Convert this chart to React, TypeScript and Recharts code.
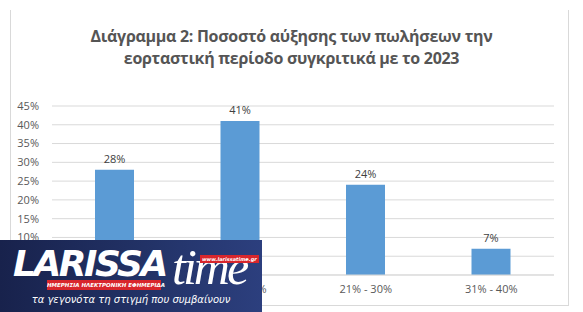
import React from 'react';
import { BarChart, Bar, XAxis, YAxis, CartesianGrid, LabelList } from 'recharts';

const ranges = ['0% - 10%', '11% - 20%', '21% - 30%', '31% - 40%'];
const shares = [28, 41, 24, 7];
const yTicks = [0, 5, 10, 15, 20, 25, 30, 35, 40, 45];
const titleLines = [
  'Διάγραμμα 2: Ποσοστό αύξησης των πωλήσεων την',
  'εορταστική περίοδο συγκριτικά με το 2023',
];

const data = ranges.map((range, i) => ({ range, share: shares[i] }));

const pct = (v: number) => `${v}%`;

const Logo = () => (
  <div
    style={{
      position: 'absolute',
      left: 0,
      top: 240,
      width: 262,
      height: 72,
      background: 'linear-gradient(90deg, #18224c 0%, #223266 55%, #2c3f7e 100%)',
      overflow: 'hidden',
      fontFamily: '"DejaVu Sans", sans-serif',
      color: '#fff',
      whiteSpace: 'nowrap',
    }}
  >
    <div
      style={{
        position: 'absolute',
        left: 13,
        top: 5,
        fontSize: 36,
        fontWeight: 'bold',
        fontStyle: 'italic',
        letterSpacing: -2.5,
        lineHeight: '38px',
      }}
    >
      LARISSA
    </div>
    <div
      style={{
        position: 'absolute',
        left: 172,
        top: 2,
        fontSize: 50,
        fontStyle: 'italic',
        fontFamily: '"Liberation Serif", serif',
        lineHeight: '50px',
        letterSpacing: -3,
      }}
    >
      time
    </div>
    <div
      style={{
        position: 'absolute',
        left: 200,
        top: 15,
        background: '#d8262c',
        fontSize: 5,
        fontWeight: 'bold',
        fontStyle: 'italic',
        padding: '0 2px',
        lineHeight: '8px',
      }}
    >
      www.larissatime.gr
    </div>
    <div
      style={{
        position: 'absolute',
        left: 47,
        top: 40,
        width: 114,
        background: '#d8262c',
        fontSize: 5.5,
        fontWeight: 'bold',
        fontStyle: 'italic',
        lineHeight: '10px',
        textAlign: 'center',
      }}
    >
      ΗΜΕΡΗΣΙΑ ΗΛΕΚΤΡΟΝΙΚΗ ΕΦΗΜΕΡΙΔΑ
    </div>
    <div
      style={{
        position: 'absolute',
        left: 0,
        width: 262,
        top: 53,
        fontSize: 10,
        fontStyle: 'italic',
        textAlign: 'center',
        paddingRight: 6,
        lineHeight: '14px',
      }}
    >
      τα γεγονότα τη στιγμή που συμβαίνουν
    </div>
  </div>
);

export default function App() {
  return (
    <div style={{ position: 'absolute', left: 0, top: 0, width: 583, height: 312, background: '#fff', overflow: 'hidden' }}>
      <div
        style={{
          position: 'absolute',
          left: 10,
          top: 10,
          width: 557,
          height: 295,
          borderLeft: '1px solid #d9d9d9',
          borderRight: '1px solid #d9d9d9',
          borderBottom: '1px solid #d9d9d9',
        }}
      />
      <div
        style={{
          position: 'absolute',
          left: 0,
          top: 25,
          width: 583,
          textAlign: 'center',
          fontFamily: '"Open Sans", sans-serif',
          fontWeight: 700,
          fontSize: 16,
          letterSpacing: -0.3,
          lineHeight: '22px',
          color: '#555',
        }}
      >
        {titleLines.map((t) => (
          <div key={t}>{t}</div>
        ))}
      </div>
      <div style={{ position: 'absolute', left: 0, top: 0 }}>
        <BarChart width={583} height={312} data={data} margin={{ top: 106, right: 29, bottom: 7, left: 12 }}>
          <CartesianGrid vertical={false} stroke="#d9d9d9" />
          <XAxis
            dataKey="range"
            height={30}
            axisLine={{ stroke: '#d9d9d9' }}
            tickLine={false}
            tickSize={0}
            tickMargin={10}
            interval={0}
            tick={{ fill: '#595959', fontSize: 11, fontFamily: '"Open Sans", sans-serif' }}
          />
          <YAxis
            width={40}
            domain={[0, 45]}
            ticks={yTicks}
            interval={0}
            tickFormatter={pct}
            axisLine={false}
            tickLine={false}
            tickSize={0}
            tickMargin={13}
            tick={{ fill: '#595959', fontSize: 11, fontFamily: '"Open Sans", sans-serif' }}
          />
          <Bar dataKey="share" fill="#5b9bd5" barSize={39} isAnimationActive={false}>
            <LabelList
              dataKey="share"
              position="top"
              offset={7}
              formatter={pct}
              style={{ fill: '#404040', fontSize: 11, fontFamily: '"Open Sans", sans-serif' }}
            />
          </Bar>
        </BarChart>
      </div>
      <Logo />
    </div>
  );
}
